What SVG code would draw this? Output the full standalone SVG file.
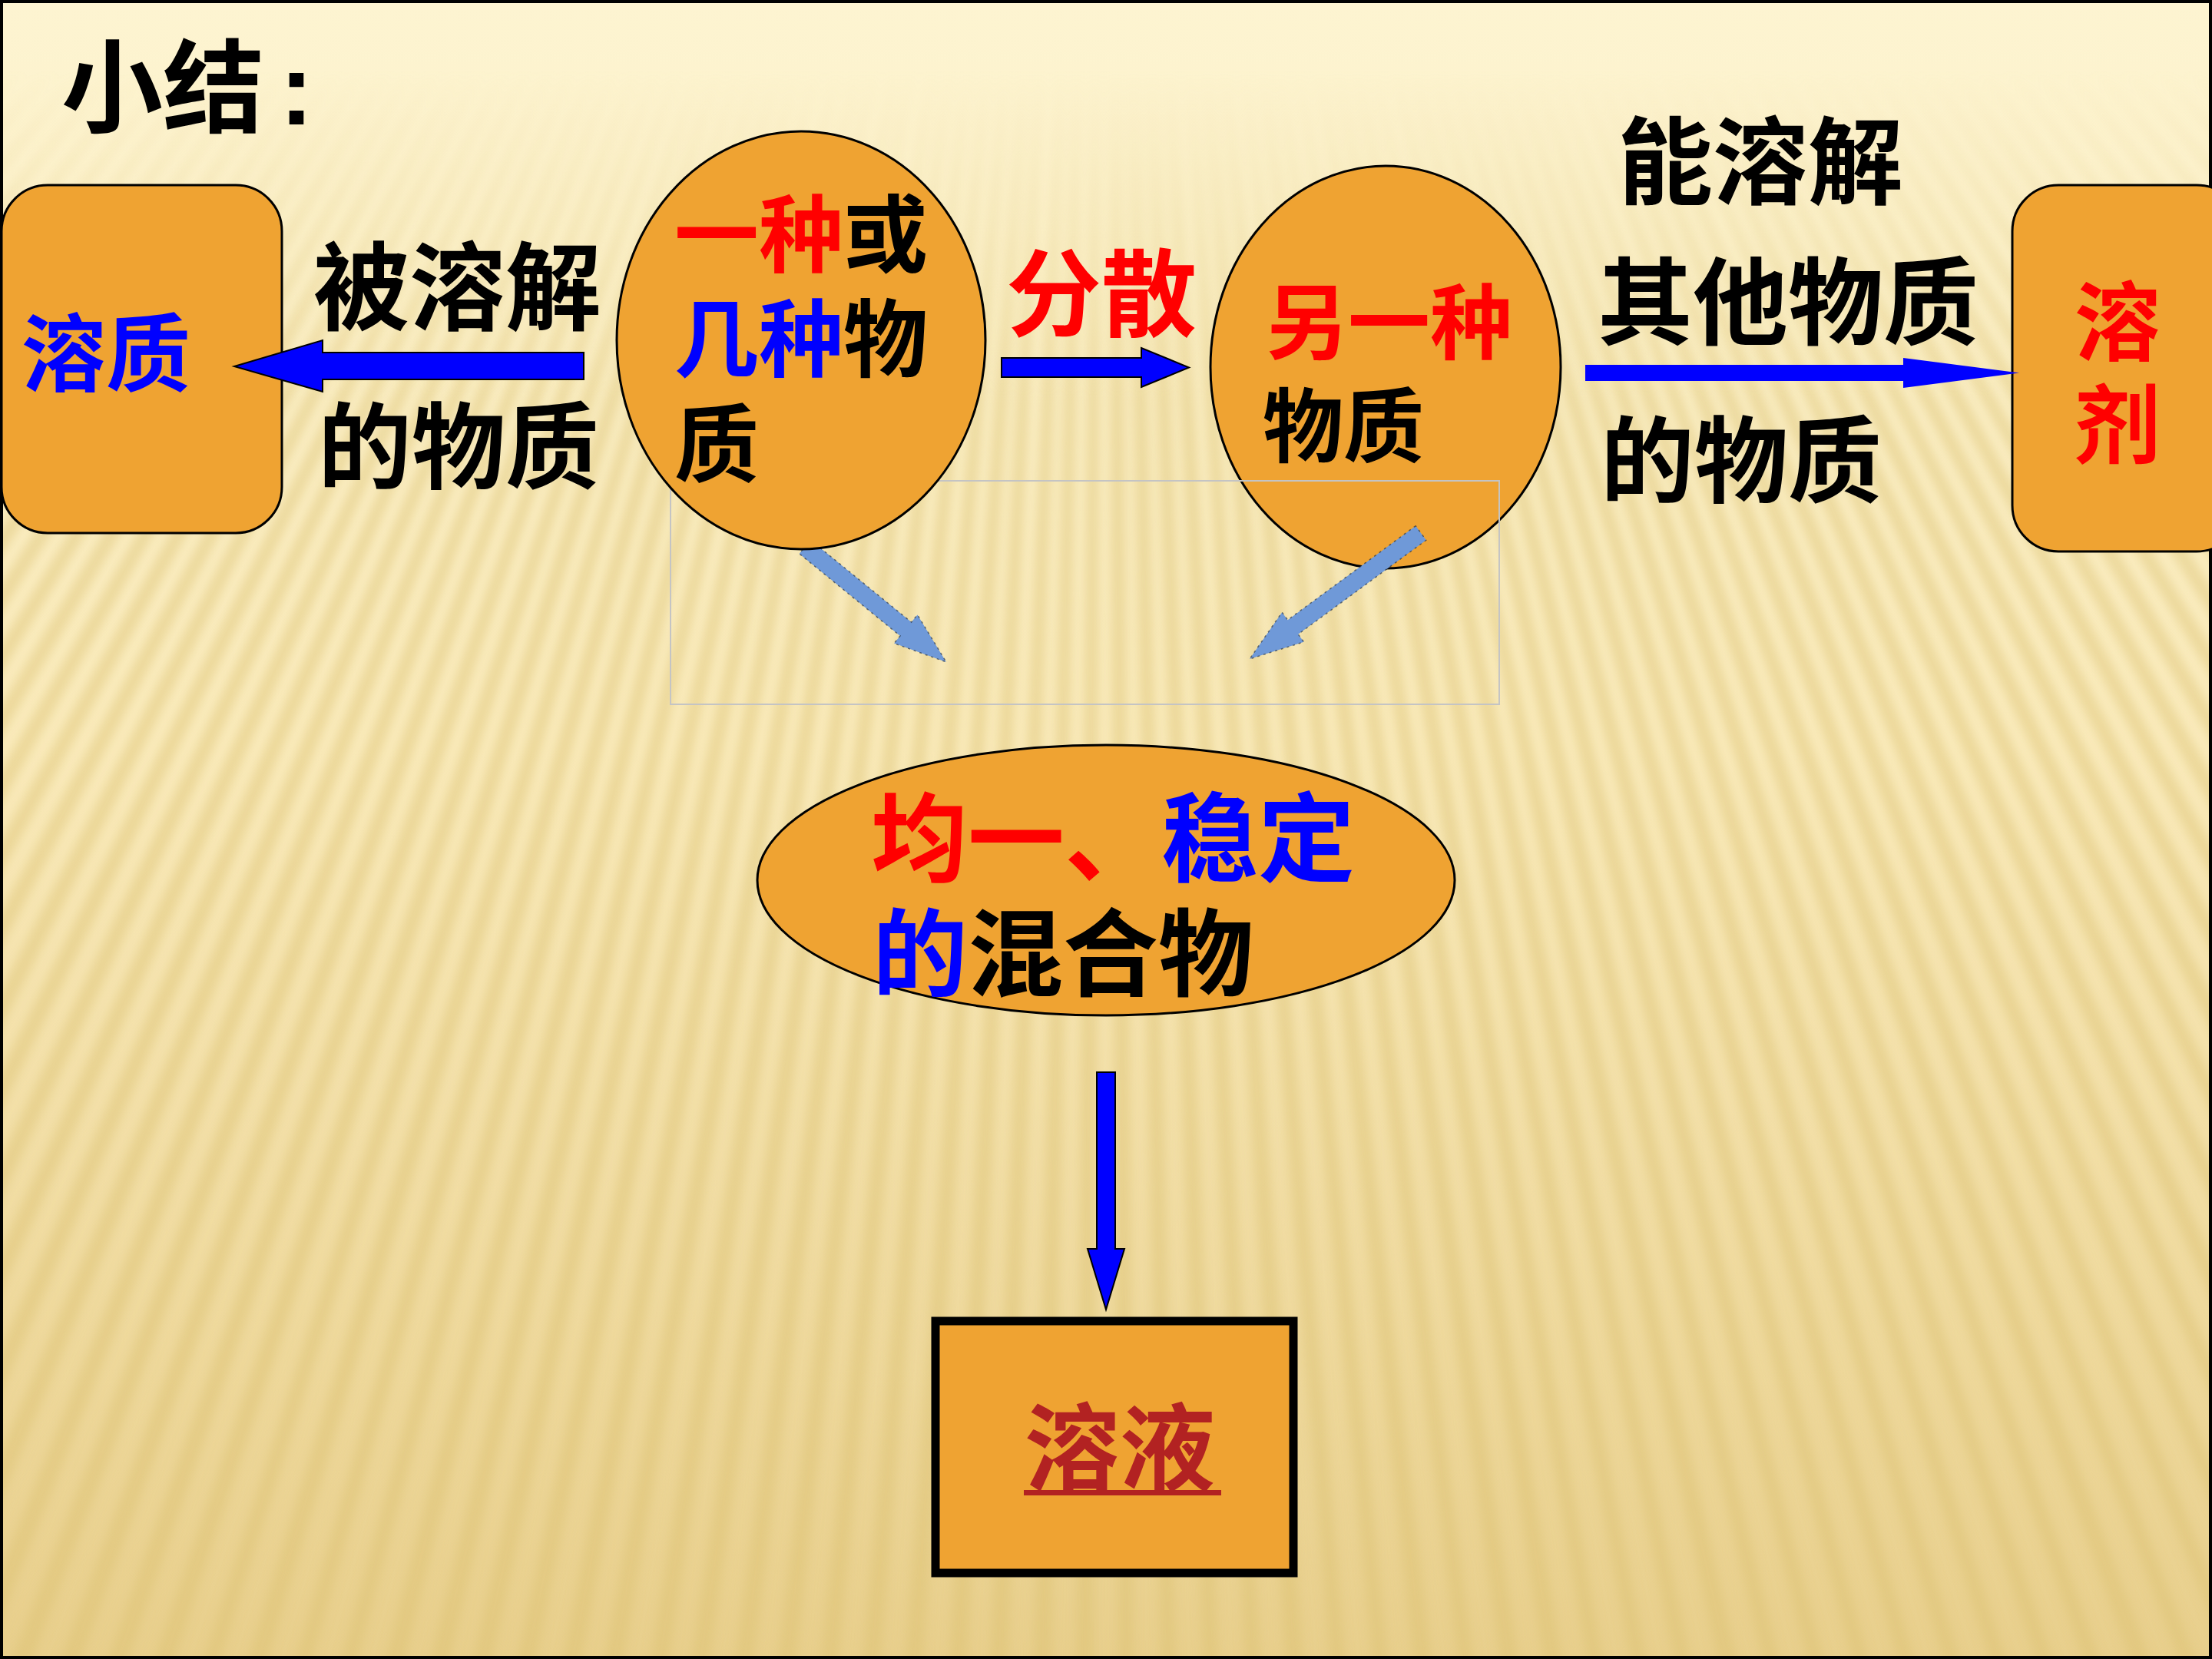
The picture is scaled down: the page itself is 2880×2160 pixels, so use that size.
<svg xmlns="http://www.w3.org/2000/svg" width="2880" height="2160" viewBox="0 0 2880 2160">
<defs>
<style>
.t{font-family:"Liberation Sans","Noto Sans CJK SC",sans-serif;font-weight:700;}
.k{fill:#000}
.r{fill:#ff0000}
.b{fill:#0000ff}
.node{fill:#efa332;stroke:#000;stroke-width:3}
.blk{fill:#0000ff;stroke:#000;stroke-width:2}
.pic{fill:#6f99d8;stroke:#1b2433;stroke-width:1.5;stroke-opacity:0.6;stroke-dasharray:3 5}
</style>
<linearGradient id="bg" x1="0" y1="0" x2="0" y2="1">
<stop offset="0" stop-color="#fdf4d1"/>
<stop offset="0.45" stop-color="#faebbb"/>
<stop offset="1" stop-color="#e8cf8c"/>
</linearGradient>
<linearGradient id="fade" gradientUnits="userSpaceOnUse" x1="0" y1="90" x2="0" y2="520">
<stop offset="0" stop-color="#fff" stop-opacity="0"/>
<stop offset="1" stop-color="#fff" stop-opacity="1"/>
</linearGradient>
<mask id="m" maskUnits="userSpaceOnUse" x="0" y="0" width="2880" height="2160">
<rect x="0" y="0" width="2880" height="2160" fill="url(#fade)"/>
</mask>
<filter id="soft" filterUnits="userSpaceOnUse" x="0" y="0" width="2880" height="2160">
<feGaussianBlur stdDeviation="7"/>
</filter>
</defs>

<g id="background">
<rect x="0" y="0" width="2880" height="2160" fill="url(#bg)"/>
<g mask="url(#m)">
<circle cx="1440" cy="-1500" r="2780" fill="none" stroke="#dcc070" stroke-opacity="0.45" stroke-width="2400" stroke-dasharray="20 21.7" filter="url(#soft)"/>
</g>
<rect x="2" y="2" width="2876" height="2156" fill="none" stroke="#000" stroke-width="4"/>
</g>

<g id="title">
<text class="t k" x="80" y="162" font-size="132">小结<tspan x="364">:</tspan></text>
</g>

<g id="node-solute">
<rect class="node" x="2" y="241" width="365" height="453" rx="60" ry="60"/>
<text class="t b" x="28" y="501" font-size="110">溶质</text>
</g>

<g id="node-solvent">
<rect class="node" x="2620" y="241" width="300" height="477" rx="60" ry="60"/>
<text class="t r" x="2701" y="461" font-size="112">溶</text>
<text class="t r" x="2701" y="595" font-size="112">剂</text>
</g>

<g id="node-other">
<ellipse class="node" cx="1804" cy="478" rx="228" ry="262"/>
<text class="t r" x="1648" y="459" font-size="107">另一种</text>
<text class="t k" x="1644" y="593" font-size="105">物质</text>
</g>

<g id="picture-frame">
<rect x="873" y="626" width="1079" height="291" fill="none" stroke="#c4c4c4" stroke-width="2"/>
<polygon class="pic" points="1055.3,703.1 1186.6,810.1 1194.5,800.4 1232,862 1164.1,837.6 1172,827.9 1040.7,720.9"/>
<polygon class="pic" points="1843.2,684.7 1676.6,807.2 1669.2,797.2 1627,858 1697.6,835.8 1690.2,825.8 1856.8,703.3"/>
</g>

<g id="node-substance">
<ellipse class="node" cx="1043" cy="443" rx="240" ry="272"/>
<text class="t" x="878" y="346" font-size="110"><tspan class="r">一种</tspan><tspan class="k">或</tspan></text>
<text class="t" x="878" y="482" font-size="110"><tspan class="b">几种</tspan><tspan class="k">物</tspan></text>
<text class="t k" x="878" y="619" font-size="110">质</text>
</g>

<g id="node-mixture">
<ellipse class="node" cx="1440" cy="1146" rx="454" ry="176"/>
<text class="t" x="1134" y="1138" font-size="126"><tspan class="r">均一、</tspan><tspan class="b">稳定</tspan></text>
<text class="t" x="1136" y="1287" font-size="124"><tspan class="b">的</tspan><tspan class="k">混合物</tspan></text>
</g>

<g id="node-solution">
<rect x="1218" y="1720" width="466" height="328" fill="#efa332" stroke="#000" stroke-width="11"/>
<text class="t" x="1334" y="1931" font-size="124" fill="#b22222">溶液</text>
<rect x="1333" y="1940" width="257" height="7" fill="#b22222"/>
</g>

<g id="connectors">
<polygon class="blk" points="760,459 420,459 420,443 305,477 420,510 420,494 760,494"/>
<polygon class="blk" points="1304,466 1486,466 1486,453 1548,478.5 1486,504 1486,491 1304,491"/>
<polygon fill="#0000ff" points="2064,475 2478,475 2478,466 2629,485.5 2478,505 2478,496 2064,496"/>
<polygon class="blk" points="1428,1396 1452,1396 1452,1626 1464,1626 1440,1705 1416,1626 1428,1626"/>
</g>

<g id="labels">
<text class="t k" x="408" y="420" font-size="125">被溶解</text>
<text class="t k" x="414" y="626" font-size="122">的物质</text>
<text class="t r" x="1310" y="428" font-size="124">分散</text>
<text class="t k" x="2106" y="256" font-size="124">能溶解</text>
<text class="t k" x="2080" y="439" font-size="124">其他物质</text>
<text class="t k" x="2084" y="644" font-size="122">的物质</text>
</g>
</svg>
